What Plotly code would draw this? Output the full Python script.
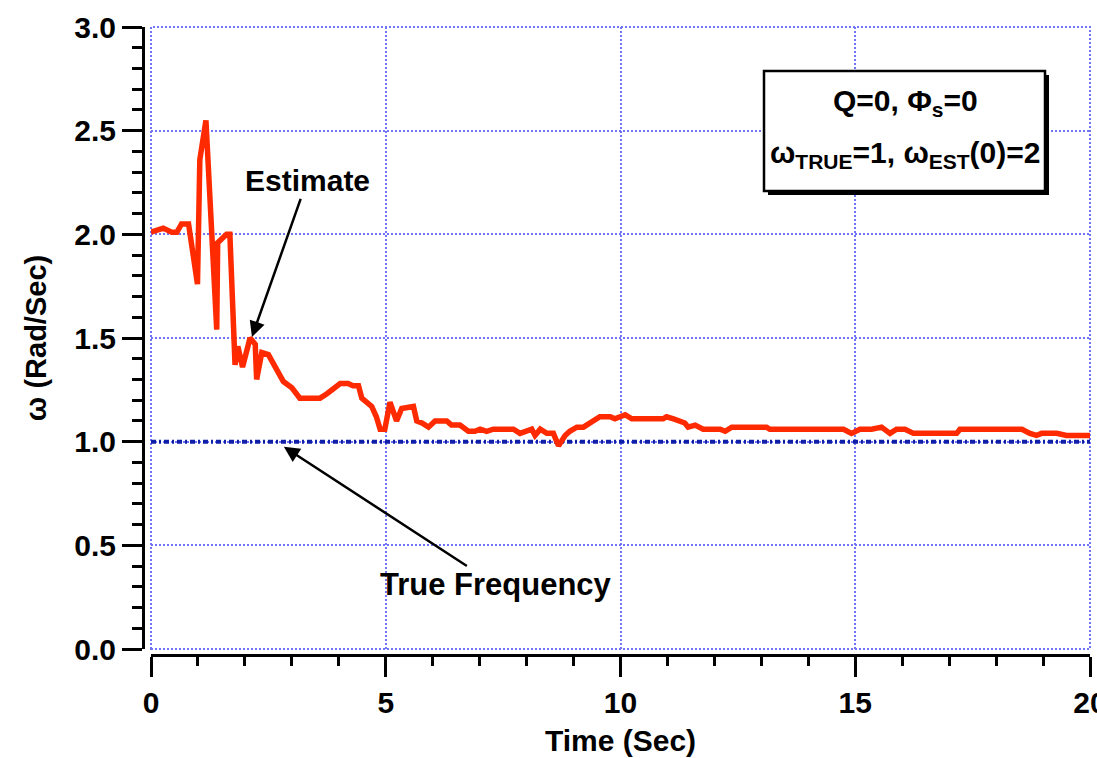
import plotly.graph_objects as go

# Frequency estimate (rad/s) versus time (s)
time_s = [0.0, 0.26, 0.44, 0.55, 0.65, 0.8, 0.99, 1.04, 1.17, 1.40, 1.42, 1.61, 1.68,
          1.79, 1.85, 1.95, 2.11, 2.22, 2.25, 2.36, 2.50, 2.68, 2.82, 3.0, 3.17, 3.6,
          3.74, 4.03, 4.2, 4.3, 4.42, 4.49, 4.6, 4.7, 4.8, 4.88, 4.98, 5.09, 5.23, 5.34,
          5.59, 5.66, 5.77, 5.91, 6.05, 6.30, 6.40, 6.58, 6.76, 6.90, 7.01, 7.15, 7.29,
          7.72, 7.86, 8.0, 8.11, 8.18, 8.29, 8.43, 8.57, 8.68, 8.82, 8.92, 9.07, 9.21,
          9.35, 9.56, 9.78, 9.88, 10.10, 10.24, 10.91, 10.98, 11.13, 11.37, 11.44, 11.59,
          11.76, 11.87, 12.12, 12.23, 12.37, 13.11, 13.18, 14.75, 14.92, 15.10, 15.35,
          15.56, 15.74, 15.88, 16.06, 16.24, 17.16, 17.23, 18.55, 18.72, 18.86, 18.97,
          19.29, 19.50, 20.0]
omega_est = [2.01, 2.03, 2.01, 2.01, 2.05, 2.05, 1.76, 2.36, 2.55, 1.54, 1.96, 2.0, 2.0,
             1.37, 1.46, 1.36, 1.50, 1.47, 1.30, 1.43, 1.42, 1.35, 1.29, 1.26, 1.21, 1.21,
             1.23, 1.28, 1.28, 1.27, 1.27, 1.21, 1.19, 1.17, 1.12, 1.06, 1.06, 1.19, 1.10,
             1.16, 1.17, 1.10, 1.09, 1.07, 1.10, 1.10, 1.08, 1.08, 1.05, 1.05, 1.06, 1.05,
             1.06, 1.06, 1.04, 1.05, 1.06, 1.03, 1.06, 1.04, 1.04, 0.98, 1.03, 1.05, 1.07,
             1.07, 1.09, 1.12, 1.12, 1.11, 1.13, 1.11, 1.11, 1.12, 1.11, 1.09, 1.07, 1.08,
             1.06, 1.06, 1.06, 1.05, 1.07, 1.07, 1.06, 1.06, 1.04, 1.06, 1.06, 1.07, 1.04,
             1.06, 1.06, 1.04, 1.04, 1.06, 1.06, 1.04, 1.03, 1.04, 1.04, 1.03, 1.03]

# True frequency (rad/s)
true_time = [0.0, 20.0]
true_omega = [1.0, 1.0]

x_range = [0, 20]
y_range = [0, 3]

W, H = 1097, 758
ML, MR, MT, MB = 143, 7, 27, 103
PW, PH = W - ML - MR, H - MT - MB
x_dom = [8 / PW, 1]
y_dom = [6 / PH, 1]


def px_x(p):
    return (p - ML) / PW


def px_y(p):
    return (H - MB - p) / PH


bold = dict(family="Liberation Sans, Arial, sans-serif", size=30, color="black", weight="bold")
grid_blue = "#7075f8"
grid_dash = "2px,2px"

fig = go.Figure()
fig.add_trace(go.Scatter(x=true_time, y=true_omega, mode="lines",
                         line=dict(color="#1020a8", width=4, dash="5px,3px,2px,3px"),
                         showlegend=False, hoverinfo="skip"))
fig.add_trace(go.Scatter(x=time_s, y=omega_est, mode="lines",
                         line=dict(color="#ff2a00", width=5.5),
                         showlegend=False))
# carrier for the offset axis lines
fig.add_trace(go.Scatter(x=[None], y=[None], xaxis="x2", yaxis="y2",
                         showlegend=False, hoverinfo="skip"))

grid_axis = dict(showgrid=True, gridcolor=grid_blue, gridwidth=2, griddash=grid_dash,
                 zeroline=False, showline=False, ticks="", showticklabels=False,
                 automargin=False)

fig.update_layout(
    width=W, height=H,
    margin=dict(l=ML, r=MR, t=MT, b=MB, pad=0, autoexpand=False),
    paper_bgcolor="white", plot_bgcolor="white",
    xaxis=dict(domain=x_dom, range=x_range, tick0=0, dtick=5, **grid_axis),
    yaxis=dict(domain=y_dom, range=y_range, tick0=0, dtick=0.5, **grid_axis),
    xaxis2=dict(overlaying="x", anchor="free", position=0, domain=x_dom, range=x_range,
                showgrid=False, zeroline=False, showline=True, linecolor="black",
                linewidth=3, ticks="outside", ticklen=20, tickwidth=3, tickcolor="black",
                tick0=0, dtick=5, tickfont=bold, ticklabeloverflow="allow",
                automargin=False,
                minor=dict(ticks="outside", ticklen=9, tickwidth=2.5, tickcolor="black",
                           dtick=1, showgrid=False),
                title=dict(text="Time (Sec)", font=bold, standoff=11)),
    yaxis2=dict(overlaying="y", anchor="free", position=0, domain=y_dom, range=y_range,
                showgrid=False, zeroline=False, showline=True, linecolor="black",
                linewidth=3, ticks="outside", ticklen=20, tickwidth=3, tickcolor="black",
                tick0=0, dtick=0.5, tickformat=".1f", tickfont=bold, automargin=False,
                minor=dict(ticks="outside", ticklen=10, tickwidth=2.5, tickcolor="black",
                           dtick=0.1, showgrid=False),
                title=dict(text="ω (Rad/Sec)",
                           font=dict(family="Liberation Sans, Arial, sans-serif", size=29,
                                     color="black", weight="bold"),
                           standoff=18)),
)

# dotted frame along the plot edges (grid at the range limits)
fig.add_shape(type="rect", xref="x domain", yref="y domain", x0=0, x1=1, y0=0, y1=1,
              line=dict(color=grid_blue, width=2, dash=grid_dash), layer="below")

# parameter box with drop shadow
box_l, box_r, box_t, box_b = 764, 1045, 71, 191
fig.add_shape(type="rect", xref="paper", yref="paper",
              x0=px_x(box_l + 4), x1=px_x(box_r + 4), y0=px_y(box_b + 4), y1=px_y(box_t + 4),
              fillcolor="black", line=dict(width=0), layer="above")
fig.add_shape(type="rect", xref="paper", yref="paper",
              x0=px_x(box_l), x1=px_x(box_r), y0=px_y(box_b), y1=px_y(box_t),
              fillcolor="white", line=dict(color="black", width=2.5), layer="above")
fig.add_annotation(xref="paper", yref="paper", x=px_x(905), y=px_y(102),
                   xanchor="center", yanchor="middle", showarrow=False,
                   text="Q=0, Φ<sub>s</sub>=0", font=bold)
fig.add_annotation(xref="paper", yref="paper", x=px_x(905), y=px_y(155),
                   xanchor="center", yanchor="middle", showarrow=False,
                   text="ω<sub>TRUE</sub>=1, ω<sub>EST</sub>(0)=2", font=bold)

# callouts: label centred at the arrow tail, arrow head on the curve
fig.add_annotation(x=2.15, y=1.505, ax=3.323, ay=2.258, axref="x", ayref="y",
                   text="Estimate", font=bold, showarrow=True, arrowhead=2,
                   arrowsize=1.25, arrowwidth=2.5, arrowcolor="black")
fig.add_annotation(x=2.83, y=0.975, ax=7.35, ay=0.309, axref="x", ayref="y",
                   text="True Frequency", font=dict(bold, size=31), showarrow=True,
                   arrowhead=2, arrowsize=1.25, arrowwidth=2.5, arrowcolor="black")

fig.write_html("out.html")
